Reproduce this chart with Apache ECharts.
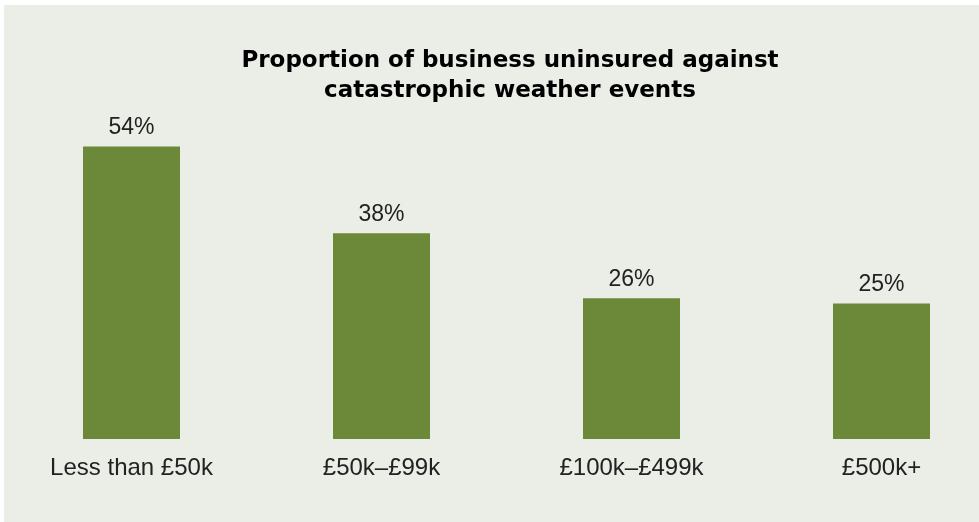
<!DOCTYPE html>
<html><head><meta charset="utf-8">
<script src="https://cdn.jsdelivr.net/npm/echarts@6/dist/echarts.min.js"></script>
<style>
html,body{margin:0;padding:0;background:#ffffff;}
#wrap{position:absolute;left:4px;top:5px;width:975px;height:517px;background:#ebede7;}
#c{position:absolute;left:0;top:0;width:979px;height:522px;}
</style></head>
<body>
<div id="wrap"></div>
<div id="c"></div>
<script>
const titleText = "Proportion of business uninsured against\ncatastrophic weather events";
const categories = ["Less than £50k", "£50k–£99k", "£100k–£499k", "£500k+"];
const values = [54, 38, 26, 25];

const chart = echarts.init(document.getElementById('c'), null, {renderer:'canvas'});
chart.setOption({
  backgroundColor: 'transparent',
  animation: false,
  title: {
    text: titleText,
    left: 505, top: 41, textAlign: 'center',
    textStyle: {fontFamily: 'DejaVu Sans, sans-serif', fontWeight: 'bold', fontSize: 23, lineHeight: 30, color: '#000'}
  },
  grid: {left: 6.5, width: 1000, top: 114, height: 325, outerBoundsMode: 'none', containLabel: false},
  xAxis: {
    type: 'category', data: categories,
    axisLine: {show: false}, axisTick: {show: false},
    axisLabel: {margin: 17, fontSize: 24, color: '#222', fontFamily: 'Liberation Sans, Arial, sans-serif', interval: 0}
  },
  yAxis: {type: 'value', min: 0, max: 60, show: false, splitLine: {show: false}},
  series: [{
    type: 'bar', data: values, barWidth: 97,
    itemStyle: {color: '#6c893a'},
    label: {show: true, position: 'top', distance: 7, formatter: '{c}%', fontSize: 23, color: '#222', fontFamily: 'Liberation Sans, Arial, sans-serif'}
  }]
});
</script>
</body></html>
